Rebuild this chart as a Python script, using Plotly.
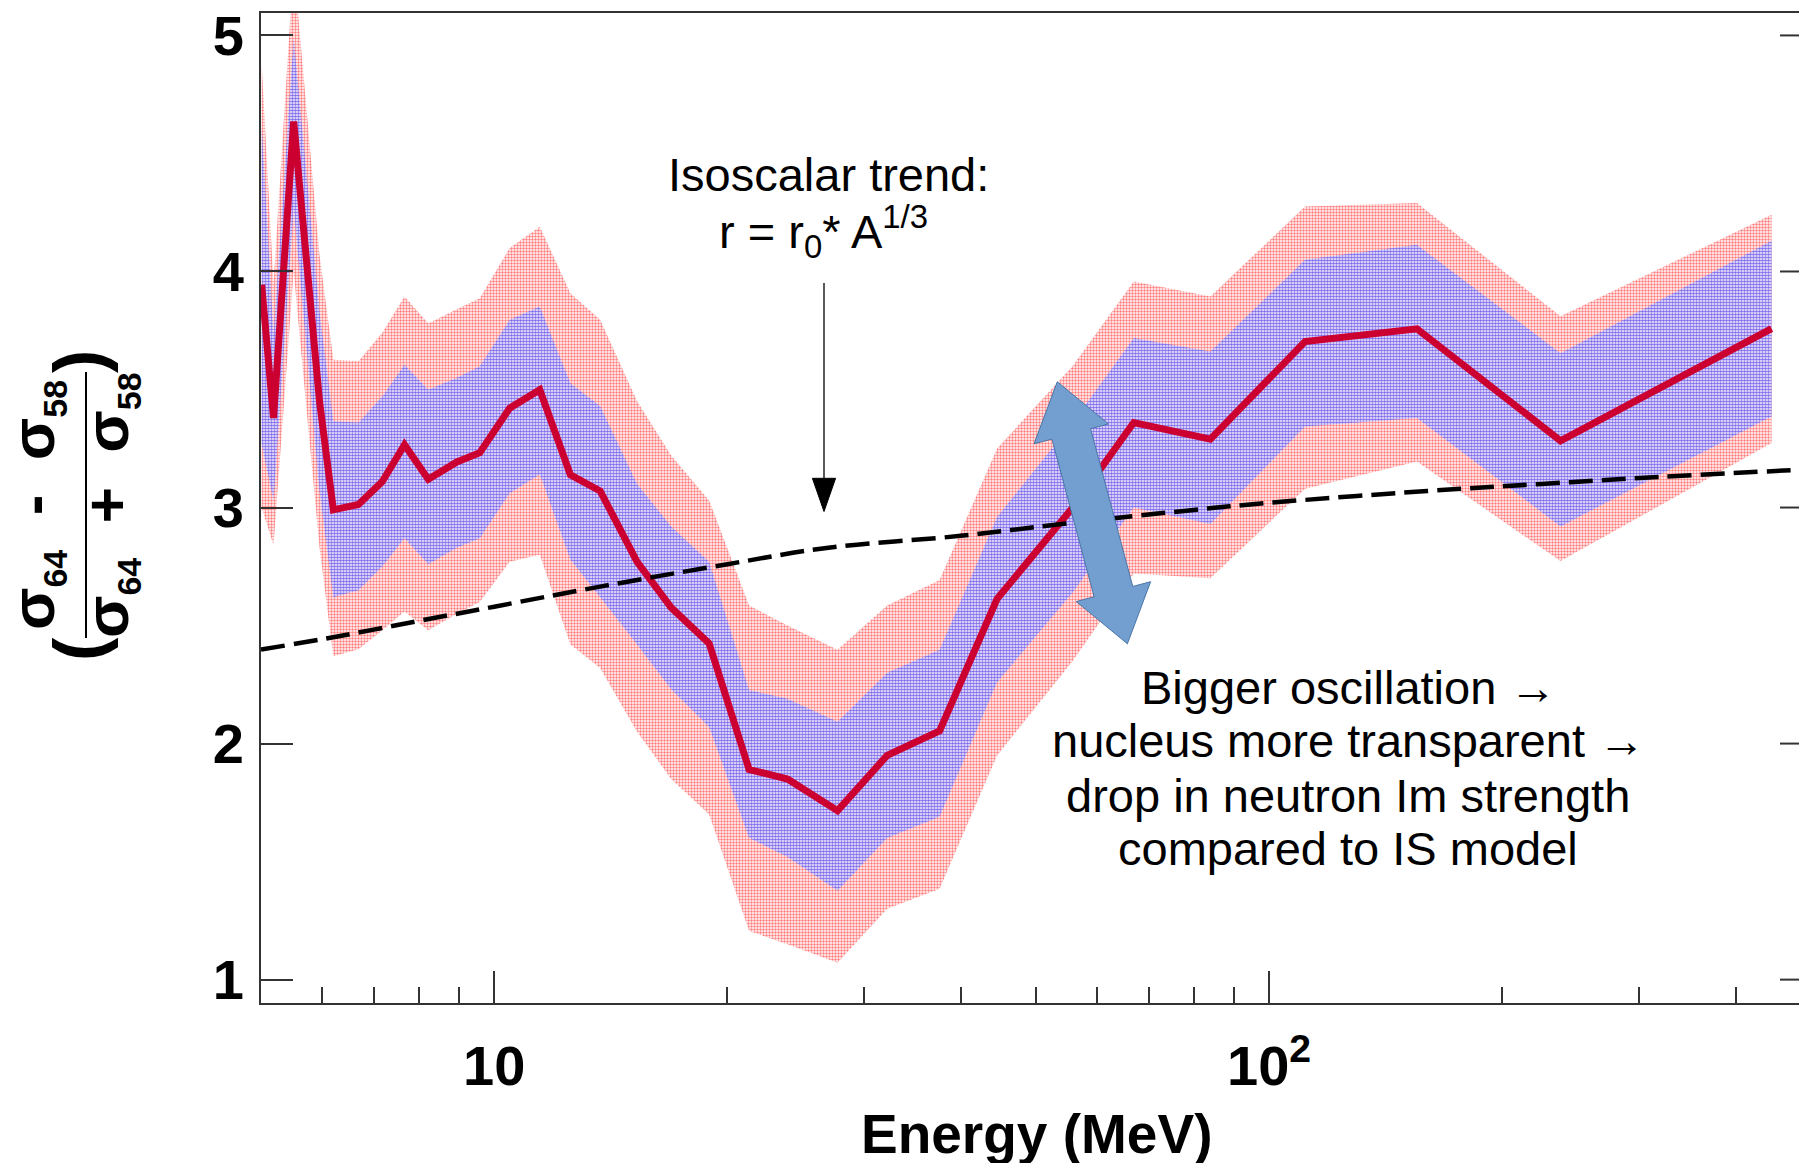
import plotly.graph_objects as go

# ---- measured ratio vs neutron energy and its two uncertainty bands ----
energy = [5.01, 5.19, 5.51, 5.95, 6.20, 6.68, 7.17, 7.66, 8.22, 8.95, 9.58,
          10.47, 11.45, 12.54, 13.7, 15.29, 16.92, 18.94, 21.33, 23.91, 27.74,
          32.15, 37.57, 44.57, 55.8, 66.9, 84.0, 111.3, 155.2, 237.8, 445.2]
ratio = [3.944, 3.379, 4.635, 3.45, 2.99, 3.013, 3.11, 3.266, 3.12, 3.193, 3.232,
         3.421, 3.499, 3.139, 3.07, 2.77, 2.576, 2.424, 1.89, 1.85, 1.716,
         1.95, 2.054, 2.613, 3.0, 3.36, 3.29, 3.703, 3.757, 3.283, 3.758]
inner_hi = [4.62, 3.73, 4.99, 3.83, 3.365, 3.36, 3.47, 3.605, 3.499, 3.55, 3.598,
            3.795, 3.852, 3.527, 3.43, 3.10, 2.92, 2.77, 2.227, 2.19, 2.093,
            2.30, 2.397, 2.96, 3.36, 3.718, 3.661, 4.05, 4.113, 3.654, 4.13]
inner_lo = [3.27, 3.03, 4.27, 3.07, 2.62, 2.65, 2.75, 2.87, 2.76, 2.83, 2.87,
            3.06, 3.14, 2.78, 2.62, 2.42, 2.23, 2.07, 1.60, 1.52, 1.377,
            1.60, 1.69, 2.26, 2.64, 3.00, 2.93, 3.343, 3.379, 2.92, 3.386]
outer_hi = [4.88, 3.95, 5.30, 4.07, 3.626, 3.62, 3.74, 3.894, 3.78, 3.84, 3.887,
            4.099, 4.19, 3.908, 3.795, 3.45, 3.22, 3.03, 2.585, 2.50, 2.397,
            2.585, 2.693, 3.25, 3.60, 3.958, 3.894, 4.275, 4.29, 3.81, 4.24]
outer_lo = [3.00, 2.84, 4.00, 2.83, 2.37, 2.40, 2.48, 2.56, 2.48, 2.55, 2.60,
            2.77, 2.80, 2.42, 2.32, 2.05, 1.85, 1.70, 1.206, 1.15, 1.072,
            1.30, 1.385, 1.95, 2.35, 2.72, 2.70, 3.08, 3.195, 2.773, 3.273]

# ---- isoscalar expectation, r = r0 * A^(1/3) ----
trend_energy = [5.0, 6.3, 8.0, 10.0, 13.7, 20.0, 27.0, 40.0, 54.0, 80.0, 100.0,
                160.0, 225.0, 320.0, 483.0, 500.0]
trend_ratio = [2.398, 2.455, 2.52, 2.58, 2.665, 2.76, 2.83, 2.88, 2.93, 2.99, 3.02,
               3.07, 3.10, 3.13, 3.16, 3.163]

# ---- axis ticks ----
x_tick_vals = [10, 100]
x_tick_text = ["10", "10<sup>2</sup>"]
x_minor_vals = [6, 7, 8, 9, 20, 30, 40, 50, 60, 70, 80, 90, 200, 300, 400]
y_tick_vals = [1, 2, 3, 4, 5]

W, H = 1799, 1163
ML, MR, MT, MB = 261, 0, 13, 160
PW = W - ML - MR
PH = H - MT - MB


def px(x):
    """pixel column -> paper x"""
    return (x - ML) / PW


def py(y):
    """pixel row -> paper y"""
    return (H - MB - y) / PH


FONT = "Liberation Sans, Arial, Helvetica, sans-serif"
AXIS = "#333333"

fig = go.Figure()

# outer (red) band
fig.add_trace(go.Scatter(
    x=energy + energy[::-1], y=outer_hi + outer_lo[::-1],
    mode="none", fill="toself", fillcolor="rgba(0,0,0,0)",
    fillpattern=dict(shape=".", size=3, solidity=0.5,
                     fgcolor="#ff0000", bgcolor="rgba(0,0,0,0)"),
    hoverinfo="skip", showlegend=False))

# inner (blue) band on top of the red one
fig.add_trace(go.Scatter(
    x=energy + energy[::-1], y=inner_hi + inner_lo[::-1],
    mode="none", fill="toself", fillcolor="rgba(0,0,0,0)",
    fillpattern=dict(shape=".", size=3, solidity=0.62,
                     fgcolor="#0000ff", bgcolor="rgba(255,255,255,0.7)"),
    hoverinfo="skip", showlegend=False))

# central ratio
fig.add_trace(go.Scatter(
    x=energy, y=ratio, mode="lines",
    line=dict(color="#cc0030", width=7),
    hoverinfo="skip", showlegend=False))

# isoscalar trend
fig.add_trace(go.Scatter(
    x=trend_energy, y=trend_ratio, mode="lines",
    line=dict(color="black", width=4.5, dash="24px,9px", shape="spline"),
    hoverinfo="skip", showlegend=False))

shapes = []
# right-hand y ticks (frame edge lies just beyond the page)
for v in y_tick_vals:
    shapes.append(dict(type="line", xref="paper", yref="y",
                       x0=px(1780), x1=1.0, y0=v, y1=v,
                       line=dict(color=AXIS, width=2)))

# arrow pointing at the isoscalar curve
shapes.append(dict(type="line", xref="paper", yref="paper",
                   x0=px(824), x1=px(824), y0=py(283), y1=py(480),
                   line=dict(color="black", width=1.3)))
shapes.append(dict(type="path", xref="paper", yref="paper",
                   path=f"M{px(812.4)},{py(478.3)} L{px(835.6)},{py(478.3)} "
                        f"L{px(824)},{py(511.5)} Z",
                   fillcolor="black", line=dict(color="black", width=1)))

# double-headed block arrow
tx, ty = 1057.3, 381.7
bx, by = 1127.4, 643.8
L = ((bx - tx) ** 2 + (by - ty) ** 2) ** 0.5
ux, uy = (bx - tx) / L, (by - ty) / L
nx, ny = uy, -ux
head, hw, sw = 54.0, 38.5, 20.0
pts = [
    (tx, ty),
    (tx + head * ux + hw * nx, ty + head * uy + hw * ny),
    (tx + head * ux + sw * nx, ty + head * uy + sw * ny),
    (bx - head * ux + sw * nx, by - head * uy + sw * ny),
    (bx - head * ux + hw * nx, by - head * uy + hw * ny),
    (bx, by),
    (bx - head * ux - hw * nx, by - head * uy - hw * ny),
    (bx - head * ux - sw * nx, by - head * uy - sw * ny),
    (tx + head * ux - sw * nx, ty + head * uy - sw * ny),
    (tx + head * ux - hw * nx, ty + head * uy - hw * ny),
]
path = "M" + " L".join(f"{px(a)},{py(b)}" for a, b in pts) + " Z"
shapes.append(dict(type="path", xref="paper", yref="paper", path=path,
                   fillcolor="#729fcf", line=dict(color="#4a76a8", width=1)))

# fraction bar of the y-axis title
shapes.append(dict(type="line", xref="paper", yref="paper",
                   x0=px(86), x1=px(86), y0=py(372), y1=py(638),
                   line=dict(color="black", width=2)))

annotations = []


def note(text, x, y, size=47, angle=0, bold=False):
    annotations.append(dict(
        text=text, xref="paper", yref="paper", x=px(x), y=py(y),
        xanchor="center", yanchor="middle", showarrow=False, textangle=angle,
        font=dict(family=FONT, size=size, color="black",
                  weight="bold" if bold else "normal")))


note("Isoscalar trend:", 828.5, 174)
note("r = r<sub>0</sub>* A<sup>1/3</sup>", 823, 232)

note("Bigger oscillation \u2192", 1348, 687.5)
note("nucleus more transparent \u2192", 1348, 740.4)
note("drop in neutron Im strength", 1348, 795.7)
note("compared to IS model", 1348, 848.2)

# axis titles
note("Energy (MeV)", 1036, 1133.6, size=55, bold=True)

sub = "<sub><span style='font-size:34px'>{}</span></sub>"
note("\u03c3" + sub.format("64") + "\u00a0\u00a0-\u00a0\u00a0\u03c3" + sub.format("58"),
     36, 505, size=62, angle=-90, bold=True)
note("\u03c3" + sub.format("64") + "\u00a0\u00a0+\u00a0\u00a0\u03c3" + sub.format("58"),
     110, 505, size=62, angle=-90, bold=True)
note("(", 79, 649, size=70, angle=-90, bold=True)
note(")", 79, 362, size=70, angle=-90, bold=True)

fig.update_layout(
    width=W, height=H,
    margin=dict(l=ML, r=MR, t=MT, b=MB, pad=0),
    paper_bgcolor="white", plot_bgcolor="white",
    showlegend=False,
    font=dict(family=FONT, color="black"),
    xaxis=dict(
        type="log", range=[0.699, 2.684],
        showgrid=False, zeroline=False,
        showline=True, mirror=True, linecolor=AXIS, linewidth=2,
        ticks="inside", ticklen=32, tickwidth=2, tickcolor=AXIS,
        tickmode="array", tickvals=x_tick_vals, ticktext=x_tick_text,
        tickfont=dict(family=FONT, size=56, color="black", weight="bold"),
        ticklabelstandoff=13,
        minor=dict(ticks="inside", ticklen=16, tickwidth=2, tickcolor=AXIS,
                   tickmode="array", tickvals=x_minor_vals, showgrid=False),
    ),
    yaxis=dict(
        range=[0.901, 5.095],
        showgrid=False, zeroline=False,
        showline=True, mirror=False, linecolor=AXIS, linewidth=2,
        ticks="inside", ticklen=32, tickwidth=2, tickcolor=AXIS,
        tickmode="array", tickvals=y_tick_vals,
        tickfont=dict(family=FONT, size=56, color="black", weight="bold"),
        ticklabelstandoff=4,
    ),
    shapes=shapes,
    annotations=annotations,
)

fig.write_html("out.html")
